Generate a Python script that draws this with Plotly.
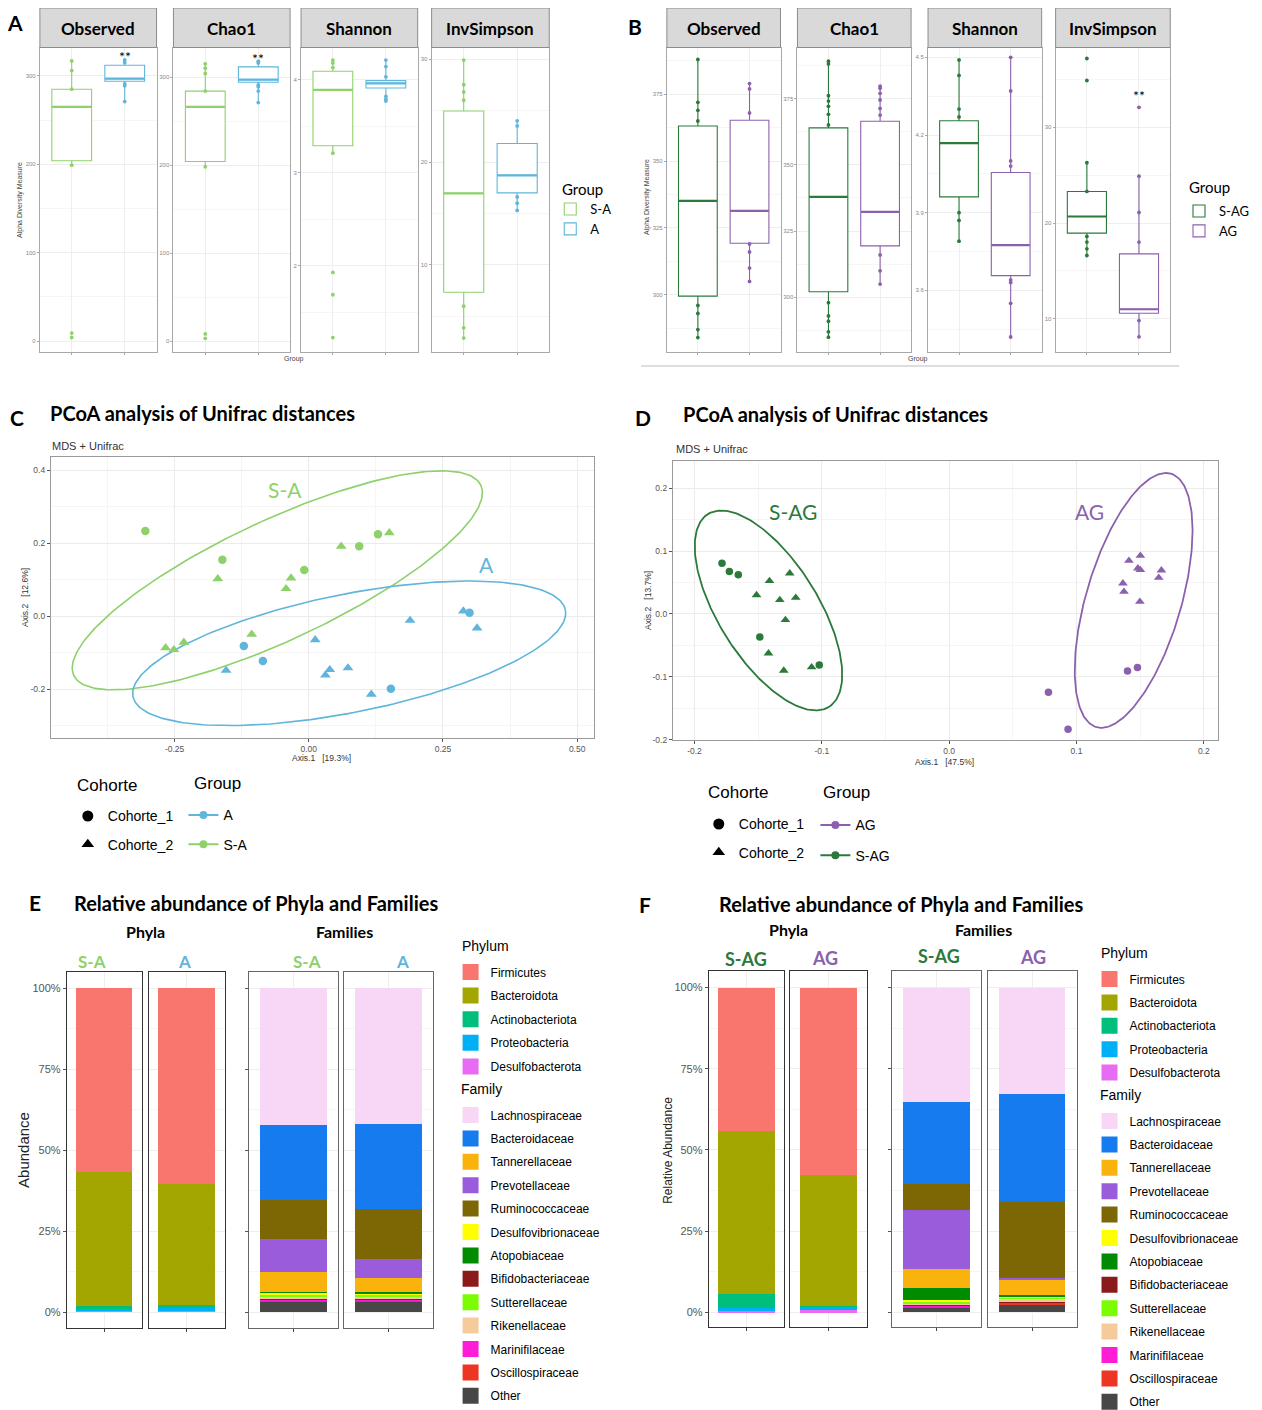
import numpy as np
import plotly.graph_objects as go

# page is photographed with an 8px body margin: figure = page minus margins
OFF = 8
WF, HF = 1246, 1430
FG = "Liberation Sans"
FT = "Lato"

# ---------------- Panel A data (alpha diversity, S-A vs A) ----------------
A_metrics = ["Observed", "Chao1", "Shannon", "InvSimpson"]
A_groups = ["S-A", "A"]
A_SA_q1 = [204, 204, 3.29, 7.35]
A_SA_med = [265, 266, 3.89, 16.96]
A_SA_q3 = [285, 284, 4.09, 24.95]
A_SA_lo = [199, 198, 3.21, 2.9]
A_SA_hi = [317, 315, 4.21, 29.9]
A_A_q1 = [294, 294, 3.91, 17.0]
A_A_med = [297, 297, 3.96, 18.7]
A_A_q3 = [312, 311.6, 3.99, 21.8]
A_A_lo = [271, 271, 3.77, 15.3]
A_A_hi = [318, 318, 4.21, 24.0]
A_SA_pts = [[317, 306, 285, 199, 9, 4],
            [315, 310, 304, 284, 198, 8, 3],
            [4.21, 4.18, 4.13, 3.21, 1.93, 1.69, 1.23],
            [29.9, 27.5, 26.8, 26.0, 6.0, 3.9, 2.9]]
A_A_pts = [[318, 315, 291, 289, 271],
           [318, 316, 291, 289, 284, 271],
           [4.21, 4.14, 4.03, 3.82, 3.79, 3.77],
           [24.0, 23.5, 16.6, 16.0, 15.3]]
A_ticks = [[0, 100, 200, 300], [0, 100, 200, 300], [2, 3, 4], [10, 20, 30]]
A_ticktext = [["0", "100", "200", "300"], ["0", "100", "200", "300"], ["2", "3", "4"], ["10", "20", "30"]]

# ---------------- Panel B data (alpha diversity, S-AG vs AG) ----------------
B_groups = ["S-AG", "AG"]
B_SAG_q1 = [299.5, 302.1, 3.961, 18.94]
B_SAG_med = [335.1, 337.9, 4.169, 20.68]
B_SAG_q3 = [363.1, 363.9, 4.255, 23.3]
B_SAG_lo = [284, 284.5, 3.786, 16.56]
B_SAG_hi = [388, 389.4, 4.492, 26.27]
B_AG_q1 = [319.3, 319.4, 3.657, 10.56]
B_AG_med = [331.4, 332.2, 3.775, 10.98]
B_AG_q3 = [365.3, 366.4, 4.055, 16.77]
B_AG_lo = [304.9, 304.9, 3.418, 8.12]
B_AG_hi = [379.3, 379.6, 4.497, 24.87]
B_SAG_pts = [[388, 372, 369, 365, 296, 293, 287, 284],
             [389, 388, 376, 374, 372, 369, 365, 298, 293, 291, 287, 285],
             [4.49, 4.43, 4.30, 4.27, 3.90, 3.87, 3.79],
             [37.2, 34.9, 26.3, 23.3, 18.6, 18.0, 17.3, 16.6]]
B_AG_pts = [[379, 377, 368, 319, 316, 310, 305],
            [379.6, 378.8, 376.9, 374.4, 371.2, 368.7, 316, 310, 305],
            [4.50, 4.37, 4.10, 4.08, 3.64, 3.63, 3.55, 3.42],
            [32.1, 24.9, 21.1, 18.0, 9.8, 8.1]]
B_ticks = [[300, 325, 350, 375], [300, 325, 350, 375], [3.6, 3.9, 4.2, 4.5], [10, 20, 30]]
B_ticktext = [["300", "325", "350", "375"], ["300", "325", "350", "375"],
              ["3.6", "3.9", "4.2", "4.5"], ["10", "20", "30"]]

# ---------------- Panel C data (PCoA S-A / A) ----------------
C_SA_x = [-0.3045, -0.161, -0.1695, -0.2667, -0.2513, -0.2327, -0.1063, -0.0424, -0.033, -0.0084, 0.0604, 0.094, 0.129, 0.150]
C_SA_y = [0.233, 0.154, 0.102, -0.087, -0.092, -0.072, -0.050, 0.075, 0.104, 0.126, 0.191, 0.191, 0.224, 0.228]
C_SA_coh = [1, 1, 2, 2, 2, 2, 2, 2, 2, 1, 2, 1, 1, 2]
C_A_x = [-0.121, -0.0855, -0.154, 0.012, 0.0391, 0.031, 0.073, 0.1165, 0.153, 0.1887, 0.288, 0.2995, 0.3135]
C_A_y = [-0.082, -0.123, -0.149, -0.065, -0.147, -0.162, -0.142, -0.2145, -0.199, -0.012, 0.0137, 0.009, -0.033]
C_A_coh = [1, 1, 2, 2, 2, 2, 2, 2, 1, 2, 2, 1, 2]
# ellipse: centre x, centre y, conjugate semi-diameters (ux, uy), (vx, vy)
C_SA_ell = [-0.0586, 0.0978, 0.3792, 0.2603, 0.047, -0.149]
C_A_ell = [0.0753, -0.102, 0.4028, 0.1186, 0.0216, -0.1586]

# ---------------- Panel D data (PCoA S-AG / AG) ----------------
D_SAG_x = [-0.1784, -0.1726, -0.1656, -0.1411, -0.1252, -0.1513, -0.133, -0.1205, -0.1286, -0.1487, -0.1419, -0.1299, -0.108, -0.102]
D_SAG_y = [0.0806, 0.0678, 0.0625, 0.0525, 0.0647, 0.0302, 0.0223, 0.026, -0.0095, -0.0366, -0.0625, -0.0901, -0.0847, -0.081]
D_SAG_coh = [1, 1, 1, 2, 2, 2, 2, 2, 2, 1, 2, 2, 2, 1]
D_AG_x = [0.1412, 0.1502, 0.1482, 0.1502, 0.1667, 0.1646, 0.1365, 0.1373, 0.1498, 0.1401, 0.1479, 0.078, 0.0934]
D_AG_y = [0.0848, 0.0927, 0.0726, 0.070, 0.0695, 0.0578, 0.0488, 0.0355, 0.0196, -0.0906, -0.0853, -0.1245, -0.1833]
D_AG_coh = [2, 2, 2, 2, 2, 2, 2, 2, 2, 1, 1, 1, 1]
D_SAG_ell = [-0.1419, 0.0056, 0.0476, -0.1533, -0.033, -0.0423]
D_AG_ell = [0.1449, 0.0216, 0.0293, 0.2016, -0.0358, 0.0215]

# ---------------- Panels E/F data (relative abundance) ----------------
phyla = ["Firmicutes", "Bacteroidota", "Actinobacteriota", "Proteobacteria", "Desulfobacterota"]
E_phy_SA = [0.566, 0.414, 0.009, 0.006, 0.005]
E_phy_A = [0.603, 0.374, 0.010, 0.008, 0.005]
F_phy_SAG = [0.441, 0.504, 0.042, 0.008, 0.005]
F_phy_AG = [0.577, 0.403, 0.002, 0.012, 0.006]

families = ["Lachnospiraceae", "Bacteroidaceae", "Tannerellaceae", "Prevotellaceae", "Ruminococcaceae",
            "Desulfovibrionaceae", "Atopobiaceae", "Bifidobacteriaceae", "Sutterellaceae", "Rikenellaceae",
            "Marinifilaceae", "Oscillospiraceae", "Other"]
E_fam_SA = [0.421, 0.234, 0.060, 0.101, 0.120, 0.006, 0.005, 0.003, 0.006, 0.005, 0.003, 0.005, 0.031]
E_fam_A = [0.420, 0.261, 0.045, 0.058, 0.154, 0.004, 0.005, 0.002, 0.005, 0.008, 0.002, 0.005, 0.031]
F_fam_SAG = [0.352, 0.254, 0.057, 0.181, 0.080, 0.004, 0.038, 0.003, 0.005, 0.005, 0.002, 0.004, 0.015]
F_fam_AG = [0.327, 0.334, 0.044, 0.007, 0.234, 0.004, 0.003, 0.002, 0.007, 0.006, 0.002, 0.005, 0.025]
# stacking order, bottom -> top
fam_stack = ["Other", "Oscillospiraceae", "Marinifilaceae", "Bifidobacteriaceae", "Rikenellaceae",
             "Sutterellaceae", "Desulfovibrionaceae", "Atopobiaceae", "Tannerellaceae", "Prevotellaceae",
             "Ruminococcaceae", "Bacteroidaceae", "Lachnospiraceae"]
pct_ticks = [0, 0.25, 0.5, 0.75, 1.0]
pct_text = ["0%", "25%", "50%", "75%", "100%"]

# ---------------- styles ----------------
col_SA, col_A = "#8ed16b", "#5fb5db"
col_SAG, col_AG = "#2b7a3b", "#8b61ad"
phy_col = {"Firmicutes": "#F8766D", "Bacteroidota": "#A3A500", "Actinobacteriota": "#00BF7D",
           "Proteobacteria": "#00B0F6", "Desulfobacterota": "#E76BF3"}
fam_col = {"Lachnospiraceae": "#F8D6F5", "Bacteroidaceae": "#167BEF", "Tannerellaceae": "#F9B30C",
           "Prevotellaceae": "#9B5CDB", "Ruminococcaceae": "#7D6705", "Desulfovibrionaceae": "#FFFF00",
           "Atopobiaceae": "#008B00", "Bifidobacteriaceae": "#8B1A1A", "Sutterellaceae": "#7CFC00",
           "Rikenellaceae": "#F5CB9B", "Marinifilaceae": "#FF1CD7", "Oscillospiraceae": "#EE3524",
           "Other": "#474747"}


def px(x):
    return (x - OFF) / WF


def py(y):
    return 1 - (y - OFF) / HF


def xd(a, b):
    return [px(a), px(b)]


def yd(a, b):
    return [py(b), py(a)]


fig = go.Figure()
layout = {}
annotations = []
shapes = []
ax_n = [0]


def new_axes(xdom, ydom, xcfg, ycfg):
    ax_n[0] += 1
    n = ax_n[0]
    s = "" if n == 1 else str(n)
    layout["xaxis" + s] = dict(domain=xdom, anchor="y" + s, automargin=False, **xcfg)
    layout["yaxis" + s] = dict(domain=ydom, anchor="x" + s, automargin=False, **ycfg)
    return "x" + s, "y" + s


def ann(text, x, y, size, color="black", bold=False, family=FT, xanchor="center", angle=0):
    annotations.append(dict(text=("<b>%s</b>" % text) if bold else text, x=px(x), y=py(y),
                            xref="paper", yref="paper", showarrow=False, xanchor=xanchor,
                            yanchor="middle", textangle=angle,
                            font=dict(size=size, color=color, family=family)))


# ---------------- box panels ----------------
def box_section(panel_px, groups, colors, q1s, meds, q3s, los, his, ptss, yranges, ticks, ticktext, leg):
    for i, m in enumerate(A_metrics):
        x0, x1 = panel_px[i]
        box_px = (x1 - x0) / 2.2 * 0.75
        step = ticks[i][1] - ticks[i][0]
        xa, ya = new_axes(
            xd(x0, x1), yd(48, 352),
            dict(type="category", categoryorder="array", categoryarray=groups, range=[-0.6, 1.6],
                 showticklabels=False, ticks="outside", ticklen=2, tickcolor="#aaa",
                 showgrid=True, gridcolor="#eeeeee", showline=True, mirror=True, linecolor="#a8a8a8",
                 linewidth=1, zeroline=False),
            dict(range=yranges[i], tickmode="array", tickvals=ticks[i], ticktext=ticktext[i],
                 tickfont=dict(size=6, color="#888", family=FG), ticks="outside", ticklen=2,
                 tickcolor="#aaa", showgrid=True, gridcolor="#eeeeee", zeroline=False,
                 showline=True, mirror=True, linecolor="#a8a8a8", linewidth=1,
                 minor=dict(tick0=ticks[i][0], dtick=step / 2, showgrid=True, gridcolor="#f6f6f6")))
        for gi, g in enumerate(groups):
            pts = ptss[gi][i]
            fig.add_trace(go.Scatter(x=[g] * len(pts), y=pts, mode="markers",
                                     marker=dict(color=colors[gi], size=3.8), xaxis=xa, yaxis=ya,
                                     showlegend=False, hoverinfo="skip"))
            fig.add_trace(go.Box(x=[g], q1=[q1s[gi][i]], median=[meds[gi][i]], q3=[q3s[gi][i]],
                                 lowerfence=[los[gi][i]], upperfence=[his[gi][i]],
                                 fillcolor="white", line=dict(color=colors[gi], width=1.1),
                                 width=0.75, whiskerwidth=0, boxpoints=False, name=g,
                                 legend=leg, legendgroup=leg + g, showlegend=(i == 0),
                                 xaxis=xa, yaxis=ya))
            # thicker median bar (ggplot style); line-ew length = 1.4 * size
            fig.add_trace(go.Scatter(x=[g], y=[meds[gi][i]], mode="markers",
                                     marker=dict(symbol="line-ew", size=box_px / 1.4 - 0.5,
                                                 line=dict(color=colors[gi], width=2.2)),
                                     xaxis=xa, yaxis=ya, showlegend=False, hoverinfo="skip"))
        # facet strip
        shapes.append(dict(type="rect", xref="paper", yref="paper", x0=px(x0), x1=px(x1),
                           y0=py(47.5), y1=py(8), fillcolor="#d9d9d9",
                           line=dict(color="#8c8c8c", width=1)))
        ann(m, (x0 + x1) / 2, 29, 17, bold=True)


A_px = [(40, 157), (174, 291), (302, 419), (433, 551)]
B_px = [(669, 783), (800, 914), (931, 1045), (1059, 1174)]
A_yr = [[-12.4, 331.6], [-12.5, 333], [1.075, 4.34], [1.55, 31.07]]
B_yr = [[278.6, 392.3], [279.4, 394.0], [3.362, 4.536], [6.51, 38.3]]

box_section(A_px, A_groups, [col_SA, col_A],
            [A_SA_q1, A_A_q1], [A_SA_med, A_A_med], [A_SA_q3, A_A_q3],
            [A_SA_lo, A_A_lo], [A_SA_hi, A_A_hi], [A_SA_pts, A_A_pts],
            A_yr, A_ticks, A_ticktext, "legend")
box_section(B_px, B_groups, [col_SAG, col_AG],
            [B_SAG_q1, B_AG_q1], [B_SAG_med, B_AG_med], [B_SAG_q3, B_AG_q3],
            [B_SAG_lo, B_AG_lo], [B_SAG_hi, B_AG_hi], [B_SAG_pts, B_AG_pts],
            B_yr, B_ticks, B_ticktext, "legend2")

# significance stars
annotations.append(dict(text="**", x="A", y=322, xref="x", yref="y", showarrow=False,
                        font=dict(size=14, family=FT, color="black")))
annotations.append(dict(text="**", x="A", y=321, xref="x2", yref="y2", showarrow=False,
                        font=dict(size=14, family=FT, color="black")))
annotations.append(dict(text="**", x="AG", y=33.3, xref="x8", yref="y8", showarrow=False,
                        font=dict(size=14, family=FT, color="black")))

ann("Alpha Diversity Measure", 20, 200, 7, color="#444", family=FG, angle=-90)
ann("Alpha Diversity Measure", 649, 197, 7, color="#444", family=FG, angle=-90)
ann("Group", 295, 359, 7, color="#444", family=FG)
ann("Group", 921, 359, 7, color="#444", family=FG)
shapes.append(dict(type="line", xref="paper", yref="paper", x0=px(643), x1=px(1183),
                   y0=py(366), y1=py(366), line=dict(color="#bdbdbd", width=1)))


# ---------------- PCoA panels ----------------
def ellipse(p, n=240):
    t = np.linspace(0, 2 * np.pi, n)
    return p[0] + p[2] * np.cos(t) + p[4] * np.sin(t), p[1] + p[3] * np.cos(t) + p[5] * np.sin(t)


def pcoa_axes(xdom, ydom, xr, yr, xt, xtt, yt, ytt):
    base = dict(showgrid=True, gridcolor="#ebebeb", zeroline=False, showline=True, mirror=True,
                linecolor="#9a9a9a", linewidth=1, ticks="outside", ticklen=3, tickcolor="#555",
                tickfont=dict(size=8.5, color="#555", family=FG))
    xs = dict(base, range=xr, tickmode="array", tickvals=xt, ticktext=xtt,
              minor=dict(tick0=xt[0], dtick=(xt[1] - xt[0]) / 2, showgrid=True, gridcolor="#f5f5f5"))
    ys = dict(base, range=yr, tickmode="array", tickvals=yt, ticktext=ytt,
              minor=dict(tick0=yt[0], dtick=(yt[1] - yt[0]) / 2, showgrid=True, gridcolor="#f5f5f5"))
    return new_axes(xdom, ydom, xs, ys)


def pcoa_points(xa, ya, xs, ys, coh, color, size):
    for c, sym in [(1, "circle"), (2, "triangle-up")]:
        xx = [x for x, k in zip(xs, coh) if k == c]
        yy = [y for y, k in zip(ys, coh) if k == c]
        fig.add_trace(go.Scatter(x=xx, y=yy, mode="markers", xaxis=xa, yaxis=ya,
                                 marker=dict(symbol=sym, color=color, size=size if c == 1 else size + 1,
                                             line=dict(width=0)),
                                 showlegend=False, hoverinfo="skip"))


def legend_dummies(xa, ya, leg_coh, leg_grp, grp_items):
    for name, sym in [("Cohorte_1", "circle"), ("Cohorte_2", "triangle-up")]:
        fig.add_trace(go.Scatter(x=[None], y=[None], mode="markers", xaxis=xa, yaxis=ya, name=name,
                                 marker=dict(symbol=sym, color="black", size=11),
                                 legend=leg_coh, legendgroup=leg_coh + name))
    for name, color in grp_items:
        fig.add_trace(go.Scatter(x=[None], y=[None], mode="lines+markers", xaxis=xa, yaxis=ya,
                                 name=name, line=dict(color=color, width=2),
                                 marker=dict(symbol="circle", color=color, size=8),
                                 legend=leg_grp, legendgroup=leg_grp + name))


# C
xa, ya = pcoa_axes(xd(51, 596), yd(457, 738), [-0.4805, 0.5316], [-0.334, 0.4356],
                   [-0.25, 0, 0.25, 0.5], ["-0.25", "0.00", "0.25", "0.50"],
                   [-0.2, 0, 0.2, 0.4], ["-0.2", "0.0", "0.2", "0.4"])
for p, col in [(C_SA_ell, col_SA), (C_A_ell, col_A)]:
    ex, ey = ellipse(p)
    fig.add_trace(go.Scatter(x=ex, y=ey, mode="lines", line=dict(color=col, width=1.6),
                             xaxis=xa, yaxis=ya, showlegend=False, hoverinfo="skip"))
pcoa_points(xa, ya, C_SA_x, C_SA_y, C_SA_coh, col_SA, 8.5)
pcoa_points(xa, ya, C_A_x, C_A_y, C_A_coh, col_A, 8.5)
legend_dummies(xa, ya, "legend3", "legend4", [("A", col_A), ("S-A", col_SA)])

# D
xa, ya = pcoa_axes(xd(675, 1221.7), yd(460.7, 740), [-0.217, 0.211], [-0.2005, 0.2439],
                   [-0.2, -0.1, 0, 0.1, 0.2], ["-0.2", "-0.1", "0.0", "0.1", "0.2"],
                   [-0.2, -0.1, 0, 0.1, 0.2], ["-0.2", "-0.1", "0.0", "0.1", "0.2"])
for p, col in [(D_SAG_ell, col_SAG), (D_AG_ell, col_AG)]:
    ex, ey = ellipse(p)
    fig.add_trace(go.Scatter(x=ex, y=ey, mode="lines", line=dict(color=col, width=1.8),
                             xaxis=xa, yaxis=ya, showlegend=False, hoverinfo="skip"))
pcoa_points(xa, ya, D_SAG_x, D_SAG_y, D_SAG_coh, col_SAG, 7.5)
pcoa_points(xa, ya, D_AG_x, D_AG_y, D_AG_coh, col_AG, 7.5)
legend_dummies(xa, ya, "legend5", "legend6", [("AG", col_AG), ("S-AG", col_SAG)])

ann("C", 17, 417, 21, bold=True)
ann("PCoA analysis of Unifrac distances", 48, 413, 20, bold=True, xanchor="left")
ann("MDS + Unifrac", 50, 446, 11, color="#333", family=FG, xanchor="left")
ann("Axis.1   [19.3%]", 323, 758, 8.5, color="#333", family=FG)
ann("Axis.2   [12.6%]", 25, 597, 8.5, color="#333", family=FG, angle=-90)
ann("S-A", 286, 489, 21, color=col_SA)
ann("A", 488, 564, 21, color=col_A)

ann("D", 645, 417, 21, bold=True)
ann("PCoA analysis of Unifrac distances", 683, 414, 20, bold=True, xanchor="left")
ann("MDS + Unifrac", 676, 449, 11, color="#333", family=FG, xanchor="left")
ann("Axis.1   [47.5%]", 948, 762, 8.5, color="#333", family=FG)
ann("Axis.2   [13.7%]", 650, 600, 8.5, color="#333", family=FG, angle=-90)
ann("S-AG", 796, 511, 21, color=col_SAG)
ann("AG", 1093, 511, 21, color=col_AG)


# ---------------- abundance panels ----------------
def bar_axes(x0, x1, y0, y1, yr, labels, border, show_ticks=True):
    xs = dict(type="category", range=[-0.6, 0.6], showticklabels=False, ticks="outside", ticklen=3,
              tickcolor="#444", showgrid=True, gridcolor="#eeeeee", showline=True, mirror=True,
              linecolor=border, linewidth=1, zeroline=False)
    ys = dict(range=yr, tickmode="array", tickvals=pct_ticks, ticktext=pct_text,
              showticklabels=labels, tickfont=dict(size=11, color="#555", family=FG),
              ticks="outside" if show_ticks else "", ticklen=3, tickcolor="#555",
              showgrid=True, gridcolor="#eeeeee", zeroline=False, showline=True, mirror=True,
              linecolor=border, linewidth=1,
              minor=dict(tick0=0, dtick=0.125, showgrid=True, gridcolor="#f6f6f6"))
    return new_axes(xd(x0, x1), yd(y0, y1), xs, ys)


def abundance_section(phy_px, fam_px, y0, y1, yr, groups, phy_vals, fam_vals, leg_p, leg_f, tag):
    first_axes = None
    for k, g in enumerate(groups):
        xa, ya = bar_axes(phy_px[k][0], phy_px[k][1], y0, y1, yr, k == 0, "#333", k == 0)
        if first_axes is None:
            first_axes = (xa, ya)
        for name in reversed(phyla):
            j = phyla.index(name)
            fig.add_trace(go.Bar(x=[g], y=[phy_vals[k][j]], width=0.9, name=name,
                                 marker=dict(color=phy_col[name], line=dict(width=0)),
                                 xaxis=xa, yaxis=ya, legendgroup=tag + "p" + name,
                                 showlegend=False, hoverinfo="skip"))
    for k, g in enumerate(groups):
        xa, ya = bar_axes(fam_px[k][0], fam_px[k][1], y0, y1, yr, False, "#666", k == 0)
        for name in fam_stack:
            j = families.index(name)
            fig.add_trace(go.Bar(x=[g], y=[fam_vals[k][j]], width=0.9, name=name,
                                 marker=dict(color=fam_col[name], line=dict(width=0)),
                                 xaxis=xa, yaxis=ya, legendgroup=tag + "f" + name,
                                 showlegend=False, hoverinfo="skip"))
    # legend keys (large square swatches, ggplot-like)
    for items, cmap, legname, pre in [(phyla, phy_col, leg_p, "p"), (families, fam_col, leg_f, "f")]:
        for j, name in enumerate(items):
            fig.add_trace(go.Scatter(x=[None], y=[None], mode="markers", name=name,
                                     marker=dict(symbol="square", size=16, color=cmap[name]),
                                     xaxis=first_axes[0], yaxis=first_axes[1], legend=legname,
                                     legendgroup=tag + pre + name, legendrank=j + 1,
                                     hoverinfo="skip"))


abundance_section([(67, 142.3), (149.3, 225.3)], [(250, 339), (345, 434.3)], 972.3, 1328,
                  [-0.0485, 1.049], ["S-A", "A"], [E_phy_SA, E_phy_A], [E_fam_SA, E_fam_A],
                  "legend7", "legend8", "E")
abundance_section([(711, 786.7), (793, 869.3)], [(895, 984.3), (990.7, 1080)], 970.7, 1326.7,
                  [-0.0444, 1.052], ["S-AG", "AG"], [F_phy_SAG, F_phy_AG], [F_fam_SAG, F_fam_AG],
                  "legend9", "legend10", "F")

ann("E", 35, 902, 21, bold=True)
ann("Relative abundance of Phyla and Families", 72, 903, 20, bold=True, xanchor="left")
ann("Phyla", 146, 931, 16, bold=True)
ann("Families", 346, 931, 16, bold=True)
ann("S-A", 92, 961, 17, color=col_SA, bold=True)
ann("A", 185, 961, 17, color=col_A, bold=True)
ann("S-A", 308, 961, 17, color=col_SA, bold=True)
ann("A", 404, 961, 17, color=col_A, bold=True)
ann("Abundance", 23, 1150, 15, color="#222", family=FG, angle=-90)

ann("F", 647, 904, 21, bold=True)
ann("Relative abundance of Phyla and Families", 719, 904, 20, bold=True, xanchor="left")
ann("Phyla", 791, 930, 16, bold=True)
ann("Families", 987, 930, 16, bold=True)
ann("S-AG", 748, 959, 18, color=col_SAG, bold=True)
ann("AG", 828, 958, 18, color=col_AG, bold=True)
ann("S-AG", 942, 956, 18, color=col_SAG, bold=True)
ann("AG", 1036, 957, 18, color=col_AG, bold=True)
ann("Relative Abundance", 670, 1150, 12, color="#222", family=FG, angle=-90)

ann("A", 15, 22, 21, bold=True)
ann("B", 637, 27, 21, bold=True)

# legend titles
ann("Group", 562, 189, 15, xanchor="left")
ann("Group", 1191, 187, 15, xanchor="left")
ann("Cohorte", 75, 785, 17, family=FG, xanchor="left")
ann("Group", 193, 783, 17, family=FG, xanchor="left")
ann("Cohorte", 708, 792, 17, family=FG, xanchor="left")
ann("Group", 824, 792, 17, family=FG, xanchor="left")
ann("Phylum", 461, 946, 14, family=FG, xanchor="left")
ann("Family", 460, 1089, 14, family=FG, xanchor="left")
ann("Phylum", 1103, 953, 14, family=FG, xanchor="left")
ann("Family", 1102, 1095, 14, family=FG, xanchor="left")


# ---------------- legends ----------------
def leg(x_sym, y_first, fsize, fam, gap):
    item_h = max(fsize * 1.3, 16) + 3
    top = y_first - item_h / 2 - 5
    return dict(x=px(x_sym - 20), y=py(top), xanchor="left", yanchor="top",
                bgcolor="rgba(0,0,0,0)", borderwidth=0, traceorder="grouped",
                tracegroupgap=gap, font=dict(size=fsize, family=fam, color="black"))


layout.update(
    legend=leg(572, 209, 13, FT, 0),
    legend2=leg(1203, 211, 13, FT, 0),
    legend3=leg(88, 816, 14, FG, 7),
    legend4=leg(204, 815, 14, FG, 8),
    legend5=leg(721, 824, 14, FG, 7),
    legend6=leg(838, 825, 14, FG, 9),
    legend7=leg(472, 972, 12, FG, 4.6),
    legend8=leg(472, 1115, 12, FG, 4.4),
    legend9=leg(1113, 979, 12, FG, 4.4),
    legend10=leg(1113, 1121, 12, FG, 4.4),
)

fig.update_layout(width=WF, height=HF, margin=dict(l=0, r=0, t=0, b=0), paper_bgcolor="white",
                  plot_bgcolor="white", barmode="stack", showlegend=True,
                  font=dict(family=FG), annotations=annotations, shapes=shapes, **layout)
fig.write_html("out.html")
